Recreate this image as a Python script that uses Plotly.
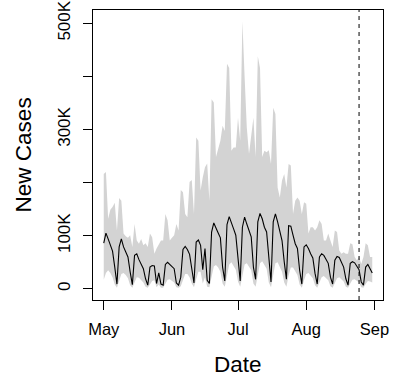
import pandas as pd
import plotly.graph_objects as go

# ---- data (values in thousands of new cases) ----
dates = pd.date_range("2022-05-01", "2022-08-31", freq="D")

median_k = [
    86, 105, 94, 82, 71, 41, 9,
    79, 94, 79, 69, 60, 32, 8,
    63, 66, 55, 46, 38, 19, 7,
    41, 44, 43, 10, 30, 9, 7,
    46, 50, 46, 41, 38, 11, 7,
    22, 74, 80, 74, 65, 41, 11,
    88, 92, 82, 36, 76, 16, 10,
    107, 124, 116, 105, 96, 41, 15,
    121, 136, 126, 113, 101, 60, 15,
    116, 135, 122, 110, 98, 41, 18,
    126, 142, 132, 116, 107, 54, 13,
    126, 141, 126, 107, 91, 51, 18,
    119, 118, 101, 85, 76, 35, 9,
    79, 83, 76, 66, 58, 29, 9,
    60, 66, 63, 54, 48, 22, 9,
    54, 61, 59, 48, 41, 19, 7,
    48, 51, 49, 41, 36, 13, 7,
    41, 46, 38, 30,
]

upper_k = [
    216, 220, 132, 149, 154, 162, 110,
    171, 166, 104, 99, 96, 101, 79,
    122, 91, 85, 94, 82, 86, 79,
    104, 97, 66, 76, 85, 91, 91,
    141, 129, 91, 96, 101, 122, 110,
    186, 182, 141, 135, 201, 205, 141,
    285, 279, 185, 210, 229, 236, 166,
    357, 351, 248, 266, 279, 307, 297,
    424, 416, 260, 266, 266, 322, 279,
    504, 400, 304, 254, 291, 322, 248,
    438, 416, 248, 260, 257, 261, 235,
    341, 329, 191, 172, 204, 216, 191,
    235, 232, 141, 166, 172, 166, 141,
    163, 160, 104, 116, 116, 110, 116,
    129, 122, 91, 91, 104, 91, 79,
    110, 107, 72, 66, 69, 66, 66,
    86, 84, 60, 54, 60, 47, 60,
    86, 82, 60, 60,
]

lower_k = [
    17, 30, 35, 30, 22, 8, 2,
    15, 28, 30, 26, 20, 7, 2,
    12, 22, 21, 17, 12, 4, 2,
    8, 15, 16, 3, 8, 2, 2,
    9, 17, 18, 15, 12, 3, 2,
    5, 18, 28, 28, 22, 10, 3,
    18, 32, 32, 10, 22, 4, 3,
    22, 42, 45, 40, 32, 10, 4,
    25, 46, 50, 44, 36, 14, 4,
    24, 46, 48, 42, 35, 10, 4,
    26, 48, 52, 45, 38, 12, 3,
    26, 48, 50, 42, 32, 12, 4,
    25, 40, 40, 32, 26, 8, 2,
    16, 28, 30, 25, 20, 7, 2,
    12, 22, 24, 20, 16, 5, 2,
    11, 20, 22, 18, 14, 4, 2,
    10, 17, 18, 15, 12, 3, 2,
    9, 15, 14, 12,
]

median = [v * 1000 for v in median_k]
upper = [v * 1000 for v in upper_k]
lower = [v * 1000 for v in lower_k]

month_ticks = ["2022-05-01", "2022-06-01", "2022-07-01", "2022-08-01", "2022-09-01"]
month_labels = ["May", "Jun", "Jul", "Aug", "Sep"]
y_ticks = [0, 100000, 200000, 300000, 400000, 500000]
y_labels = ["0", "100K", "", "300K", "", "500K"]
forecast_date = "2022-08-25"

FONT = "Liberation Sans, Arial, Helvetica, sans-serif"

fig = go.Figure()
fig.add_trace(go.Scatter(x=dates, y=lower, mode="lines", line=dict(width=0, color="#D3D3D3"),
                         hoverinfo="skip", showlegend=False))
fig.add_trace(go.Scatter(x=dates, y=upper, mode="lines", line=dict(width=0, color="#D3D3D3"),
                         fill="tonexty", fillcolor="#D3D3D3", hoverinfo="skip", showlegend=False))
fig.add_trace(go.Scatter(x=dates, y=median, mode="lines", line=dict(width=1.1, color="black"),
                         showlegend=False))

fig.add_shape(type="line", x0=forecast_date, x1=forecast_date, xref="x", yref="paper", y0=0, y1=1,
              line=dict(color="black", width=1, dash="4px,4px"))

pad = pd.Timedelta(days=4.88)
fig.update_xaxes(range=[dates[0] - pad, dates[-1] + pad], tickvals=month_ticks, ticktext=month_labels,
                 ticks="outside", ticklen=9, tickcolor="black", tickwidth=1,
                 showline=True, linecolor="black", linewidth=1, mirror=True,
                 showgrid=False, zeroline=False, ticklabelstandoff=5, automargin=False,
                 tickfont=dict(family=FONT, size=16.5, color="black"))
fig.update_yaxes(range=[-21000, 525000], tickvals=y_ticks, ticktext=y_labels, tickangle=-90,
                 ticks="outside", ticklen=9, tickcolor="black", tickwidth=1,
                 showline=True, linecolor="black", linewidth=1, mirror=True,
                 showgrid=False, zeroline=False, ticklabelstandoff=6, automargin=False,
                 tickfont=dict(family=FONT, size=17, color="black"))

fig.add_annotation(text="Date", xref="paper", yref="paper", x=0.5, y=-0.224, xanchor="center",
                   yanchor="middle", showarrow=False, font=dict(family=FONT, size=22.5, color="black"))
fig.add_annotation(text="New Cases", xref="paper", yref="paper", x=-0.24, y=0.5, xanchor="center",
                   yanchor="middle", textangle=-90, showarrow=False,
                   font=dict(family=FONT, size=22.5, color="black"))

fig.update_layout(width=403, height=379, margin=dict(l=93, r=20, t=10, b=79),
                  plot_bgcolor="white", paper_bgcolor="white")

fig.write_html("out.html")
